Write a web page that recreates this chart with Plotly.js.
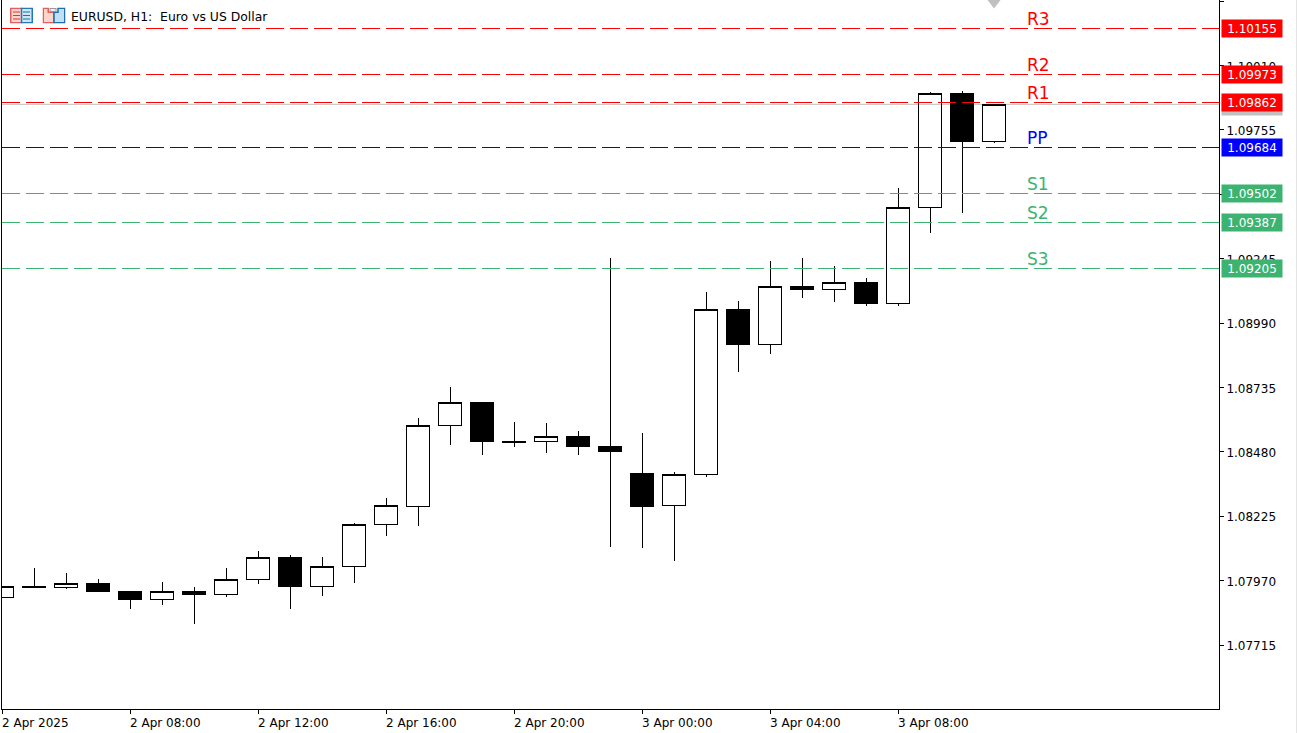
<!DOCTYPE html>
<html><head><meta charset="utf-8">
<script src="https://cdn.plot.ly/plotly-3.0.1.min.js"></script>
<style>html,body{margin:0;padding:0;background:#fff;overflow:hidden}#c{width:1297px;height:733px}
.scatterlayer .lines path,.boxlayer path{shape-rendering:crispEdges}
#edge{position:absolute;left:1296px;top:0;width:1px;height:733px;background:#e4e4e4}</style>
</head><body><div id="c"></div><div id="edge"></div>
<script>
const candleIndex=[0,1,2,3,4,5,6,7,8,9,10,11,12,13,14,15,16,17,18,19,20,21,22,23,24,25,26,27,28,29,30,31];
const opens=[1.07903,1.07946,1.07943,1.07959,1.07927,1.07896,1.07927,1.07916,1.07975,1.08062,1.07947,1.08025,1.08193,1.08262,1.08583,1.08676,1.08521,1.08520,1.08542,1.08503,1.08396,1.08266,1.08392,1.09045,1.08907,1.09136,1.09122,1.09152,1.09068,1.09448,1.09899,1.09709];
const highs=[1.07946,1.08020,1.08000,1.07976,1.07927,1.07964,1.07947,1.08020,1.08087,1.08071,1.08063,1.08197,1.08297,1.08616,1.08736,1.08676,1.08598,1.08594,1.08562,1.09247,1.08554,1.08399,1.09113,1.09077,1.09235,1.09247,1.09216,1.09168,1.09525,1.09905,1.09909,1.09856];
const lows=[1.07903,1.07942,1.07938,1.07926,1.07857,1.07873,1.07798,1.07906,1.07956,1.07857,1.07909,1.07960,1.08148,1.08187,1.08508,1.08467,1.08500,1.08476,1.08468,1.08104,1.08100,1.08047,1.08380,1.08796,1.08867,1.09090,1.09074,1.09058,1.09058,1.09348,1.09427,1.09704];
const closes=[1.07946,1.07942,1.07959,1.07926,1.07894,1.07927,1.07914,1.07975,1.08062,1.07947,1.08026,1.08193,1.08268,1.08585,1.08676,1.08523,1.08517,1.08541,1.08500,1.08483,1.08265,1.08391,1.09044,1.08907,1.09135,1.09121,1.09151,1.09066,1.09448,1.09899,1.09708,1.09856];
const levelNames=["R3","R2","R1","PP","S1","S2","S3"];
const levelValues=[1.10155,1.09973,1.09862,1.09684,1.09502,1.09387,1.09205];
const levelColors=["#ff0000","#ff0000","#ff0000","#0000ff","#3cb371","#3cb371","#3cb371"];
const levelTags=["1.10155","1.09973","1.09862","1.09684","1.09502","1.09387","1.09205"];
const bidValue=1.09856;
const yTicks=[1.07715,1.07970,1.08225,1.08480,1.08735,1.08990,1.09245,1.09500,1.09755,1.10010,1.10265];
const yTickText=["1.07715","1.07970","1.08225","1.08480","1.08735","1.08990","1.09245","1.09500","1.09755","1.10010","1.10265"];
const xTicks=[0,4,8,12,16,20,24,28];
const xTickText=["2 Apr 2025","2 Apr 08:00","2 Apr 12:00","2 Apr 16:00","2 Apr 20:00","3 Apr 00:00","3 Apr 04:00","3 Apr 08:00"];
const title="EURUSD, H1:\u00a0\u00a0Euro vs US Dollar";
const arrowIndex=[31], arrowPrice=[1.10275];

const FONT="DejaVu Sans";
const W=1297,H=733,L=2,R=1219,B=709;
const xRange=[0,38.03];
const traces=[{
  type:"candlestick",x:candleIndex,open:opens,high:highs,low:lows,close:closes,
  increasing:{line:{color:"#000",width:1},fillcolor:"rgba(255,255,255,0)"},
  decreasing:{line:{color:"#000",width:1},fillcolor:"#000"},
  whiskerwidth:0,hoverinfo:"skip",showlegend:false
}];
levelValues.forEach((v,i)=>traces.push({
  type:"scatter",mode:"lines",x:xRange,y:[v,v],
  line:{color:levelColors[i],width:1,dash:"18px,6px"},hoverinfo:"skip",showlegend:false
}));
traces.push({type:"scatter",mode:"markers",x:arrowIndex,y:arrowPrice,
  marker:{symbol:"triangle-down",size:20,color:"#c0c0c0",line:{width:0}},hoverinfo:"skip",showlegend:false,cliponaxis:true});

const ann=[];
const tag=(v,txt,col,fc)=>ann.push({xref:"paper",yref:"y",x:1,y:v,xanchor:"left",yanchor:"middle",xshift:2,
  text:txt,showarrow:false,bgcolor:col,width:56,height:13,borderpad:2,align:"center",
  font:{family:FONT,size:12,color:fc}});
tag(bidValue-0.00008,"\u00a0","#c0c0c0","#c0c0c0");
levelValues.forEach((v,i)=>{
  tag(v,levelTags[i],levelColors[i],"#fff");
  ann.push({xref:"x",yref:"y",x:32,y:v,xanchor:"left",yanchor:"bottom",yshift:-1,text:levelNames[i],showarrow:false,
    font:{family:FONT,size:17,color:levelColors[i]},borderpad:0});
});
xTicks.forEach((v,i)=>ann.push({xref:"x",yref:"paper",x:v,y:0,xanchor:"left",yanchor:"top",xshift:-1,yshift:-6,text:xTickText[i],
  showarrow:false,font:{family:FONT,size:12,color:"#000"},borderpad:0}));
ann.push({xref:"paper",yref:"paper",x:(69.5-L)/(R-L),y:1,xanchor:"left",yanchor:"top",yshift:-8,text:title,showarrow:false,
  font:{family:FONT,size:12.4,color:"#000"},borderpad:0});

const icon1='<svg xmlns="http://www.w3.org/2000/svg" width="23" height="16"><rect x=".75" y=".75" width="11" height="14.5" fill="#fbd5cc" stroke="#e06060" stroke-width="1.5"/><rect x="11.5" y=".75" width="10.75" height="14.5" fill="#cfe6f7" stroke="#1f78b8" stroke-width="1.5"/><path d="M3 4.5h7M3 8h7M3 11.5h7" stroke="#e83030"/><path d="M13 4.5h7M13 8h7M13 11.5h7" stroke="#1f6fae"/></svg>';
const icon2='<svg xmlns="http://www.w3.org/2000/svg" width="23" height="16"><path d="M.75 .75h5v4h5.5v10.5h-10.5z" fill="#fbd5cc" stroke="#e06060" stroke-width="1.5"/><path d="M11.5 15.25v-10.5h4v-4h6.75v14.5z" fill="#bfe0f5" stroke="#1f6fae" stroke-width="1.5"/><rect x="7.5" y="1" width="6" height="3" fill="#eee" stroke="#999"/></svg>';
const px=x=>(x-L)/(R-L), py=y=>1-y/B;
const img=(s,x,y)=>({source:"data:image/svg+xml;charset=utf-8,"+encodeURIComponent(s),xref:"paper",yref:"paper",
  x:px(x),y:py(y),sizex:23/(R-L),sizey:16/B,xanchor:"left",yanchor:"top",sizing:"stretch",layer:"above"});

Plotly.newPlot("c",traces,{
  width:W,height:H,paper_bgcolor:"#fff",plot_bgcolor:"#fff",
  margin:{l:L,r:W-R,t:0,b:H-B,pad:0},showlegend:false,boxgap:0.3,boxgroupgap:0,
  xaxis:{type:"linear",range:xRange,rangeslider:{visible:false},showgrid:false,zeroline:false,
    tickmode:"array",tickvals:xTicks,ticktext:xTicks.map(()=>""),ticks:"outside",ticklen:4,tickcolor:"#000",
    showline:true,linecolor:"#000",linewidth:1},
  yaxis:{side:"right",range:[1.07462,1.10269],showgrid:false,zeroline:false,
    tickmode:"array",tickvals:yTicks,ticktext:yTickText,ticks:"outside",ticklen:4,tickcolor:"#000",
    tickfont:{family:FONT,size:12,color:"#000"},ticklabelshift:1,
    showline:true,mirror:true,linecolor:"#000",linewidth:1},
  shapes:[{type:"line",xref:"paper",yref:"y",x0:0,x1:1,y0:bidValue,y1:bidValue,layer:"below",line:{color:"#c0c0c0",width:1}}],
  annotations:ann,
  images:[img(icon1,10,7.5),img(icon2,42.5,7.5)]
},{displayModeBar:false,staticPlot:true});
</script></body></html>
